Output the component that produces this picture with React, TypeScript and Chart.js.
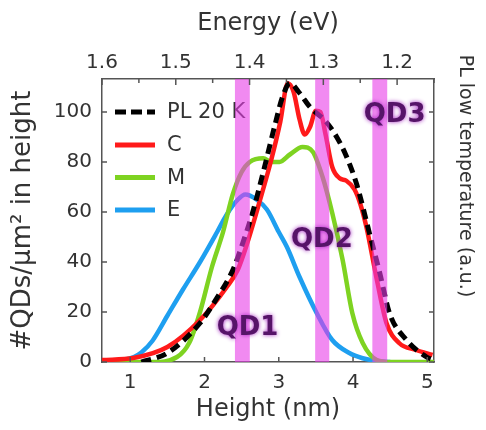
import React, { useEffect, useRef } from 'react';
import { Chart, registerables } from 'chart.js';

Chart.register(...registerables);

// ---------- data ----------
const seriesNames = ['PL 20 K', 'C', 'M', 'E'];
const seriesColors = ['#000000', '#ff1a1a', '#7ed321', '#1e9ff0'];

const plX = [1.15, 1.5, 1.94, 2.21, 2.3, 2.4, 2.52, 2.65, 2.8, 2.95, 3.05, 3.15, 3.28, 3.42, 3.64, 3.78, 3.9, 4.05, 4.22, 4.36, 4.49, 4.72, 4.99, 5.07];
const plY = [0, 3.6, 15.6, 27.6, 32, 38, 48, 60, 77, 95, 106, 111.5, 107.6, 102, 96, 90, 83, 71, 51.6, 35.6, 19.6, 8.8, 2, 1];

const cX = [0.62, 1.04, 1.5, 1.94, 2.3, 2.45, 2.57, 2.75, 2.9, 3.02, 3.12, 3.2, 3.28, 3.35, 3.42, 3.5, 3.56, 3.63, 3.72, 3.82, 3.91, 4.02, 4.1, 4.18, 4.32, 4.45, 4.62, 4.85, 5.07];
const cY = [0.8, 1.6, 6, 16.8, 30, 37, 47, 65, 81, 96, 111.5, 108, 97, 91, 94, 100.5, 100, 91, 78, 73.5, 72.5, 69, 63, 54, 33, 15.6, 7.6, 4.8, 2.8];

const mX = [0.62, 1.3, 1.63, 1.8, 1.94, 2.1, 2.25, 2.38, 2.5, 2.61, 2.79, 2.9, 3.01, 3.15, 3.32, 3.46, 3.59, 3.72, 3.86, 3.99, 4.13, 4.32, 4.5, 5.09];
const mY = [0, 0, 2, 8, 20, 38, 52, 67, 76, 80, 81.5, 80, 80, 83, 86, 84, 74, 59.6, 40.8, 19.6, 7.6, 0.8, 0, 0];

const eX = [0.62, 0.9, 1.05, 1.15, 1.3, 1.5, 1.71, 1.94, 2.17, 2.3, 2.45, 2.55, 2.7, 2.84, 3.0, 3.11, 3.28, 3.51, 3.72, 3.95, 4.13, 4.3, 4.5];
const eY = [0.2, 0.8, 2, 3.8, 8.5, 18.5, 29, 40, 52, 59, 65, 67, 65, 61, 52, 46, 34, 19.6, 8.8, 3.6, 1.5, 0.5, 0];

const bandStarts = [2.41, 3.49, 4.26];
const bandEnds = [2.61, 3.68, 4.46];

const qdLabels = ['QD1', 'QD2', 'QD3'];
const qdX = [2.58, 3.58, 4.56];
const qdY = [13.6, 48.8, 98.8];

const heightTicks = [1, 2, 3, 4, 5];
const countTicks = [0, 20, 40, 60, 80, 100];

const xTitle = 'Height (nm)';
const yTitle = '#QDs/µm² in height';
const topTitle = 'Energy (eV)';
const rightTitle = 'PL low temperature (a.u.)';

const FONT = "'DejaVu Sans', 'Liberation Sans', sans-serif";
const TEXT = '#333333';
const AXIS = '#555555';

function pts(xs: number[], ys: number[]) {
  return xs.map((x, i) => ({ x, y: ys[i] }));
}

export default function App() {
  const ref = useRef<HTMLCanvasElement | null>(null);

  useEffect(() => {
    if (!ref.current) return;
    Chart.defaults.font.family = FONT;

    const overlay = {
      id: 'overlay',
      beforeDatasetsDraw(chart: any) {
        const { ctx, chartArea } = chart;
        ctx.save();
        const rows = [33, 66, 98.5, 131];
        for (let i = 0; i < seriesNames.length; i++) {
          const y = chartArea.top + rows[i];
          ctx.beginPath();
          ctx.strokeStyle = seriesColors[i];
          ctx.lineWidth = 5;
          ctx.setLineDash(i === 0 ? [11, 5] : []);
          ctx.moveTo(chartArea.left + 13, y);
          ctx.lineTo(chartArea.left + 53, y);
          ctx.stroke();
          ctx.setLineDash([]);
          ctx.fillStyle = TEXT;
          ctx.font = `21px ${FONT}`;
          ctx.textAlign = 'left';
          ctx.textBaseline = 'middle';
          ctx.fillText(seriesNames[i], chartArea.left + 65, y + 1);
        }
        ctx.restore();
      },
      afterDatasetsDraw(chart: any) {
        const { ctx, chartArea, scales } = chart;
        const xs = scales.x;
        const ys = scales.y;
        ctx.save();
        ctx.fillStyle = 'rgba(232, 60, 232, 0.6)';
        for (let i = 0; i < bandStarts.length; i++) {
          const a = xs.getPixelForValue(bandStarts[i]);
          const b = xs.getPixelForValue(bandEnds[i]);
          ctx.fillRect(a, chartArea.top, b - a, chartArea.bottom - chartArea.top);
        }
        ctx.font = `bold 26px ${FONT}`;
        ctx.textAlign = 'center';
        ctx.textBaseline = 'middle';
        ctx.shadowColor = 'rgba(160, 30, 190, 0.95)';
        ctx.shadowBlur = 4;
        ctx.fillStyle = '#561468';
        for (let i = 0; i < qdLabels.length; i++) {
          ctx.fillText(qdLabels[i], xs.getPixelForValue(qdX[i]), ys.getPixelForValue(qdY[i]));
        }
        ctx.restore();
      },
      afterDraw(chart: any) {
        const { ctx, chartArea, scales } = chart;
        ctx.save();
        ctx.strokeStyle = AXIS;
        ctx.lineWidth = 1.5;
        const L = 5;
        scales.x.ticks.forEach((t: any) => {
          const p = scales.x.getPixelForValue(t.value);
          ctx.beginPath();
          ctx.moveTo(p, chartArea.bottom);
          ctx.lineTo(p, chartArea.bottom - L);
          ctx.stroke();
        });
        scales.x2.ticks.forEach((t: any) => {
          const p = scales.x2.getPixelForValue(t.value);
          const major = Math.abs(t.value * 10 - Math.round(t.value * 10)) < 1e-6;
          ctx.beginPath();
          ctx.moveTo(p, chartArea.top);
          ctx.lineTo(p, chartArea.top + (major ? L + 1 : L - 1));
          ctx.stroke();
        });
        scales.y.ticks.forEach((t: any) => {
          const p = scales.y.getPixelForValue(t.value);
          ctx.beginPath();
          ctx.moveTo(chartArea.left, p);
          ctx.lineTo(chartArea.left + L, p);
          ctx.stroke();
          ctx.beginPath();
          ctx.moveTo(chartArea.right, p);
          ctx.lineTo(chartArea.right - L, p);
          ctx.stroke();
        });
        ctx.fillStyle = TEXT;
        ctx.font = `19px ${FONT}`;
        ctx.textAlign = 'center';
        ctx.textBaseline = 'middle';
        ctx.translate(chartArea.right + 31, 176);
        ctx.rotate(Math.PI / 2);
        ctx.fillText(rightTitle, 0, 0);
        ctx.restore();
      },
    };

    const lineBase = {
      pointRadius: 0,
      borderWidth: 4.5,
      fill: false,
      cubicInterpolationMode: 'monotone' as const,
    };

    const chart = new Chart(ref.current, {
      type: 'line',
      data: {
        datasets: [
          { ...lineBase, label: seriesNames[0], data: pts(plX, plY), borderColor: seriesColors[0], borderDash: [10, 6], borderWidth: 5 },
          { ...lineBase, label: seriesNames[1], data: pts(cX, cY), borderColor: seriesColors[1] },
          { ...lineBase, label: seriesNames[2], data: pts(mX, mY), borderColor: seriesColors[2] },
          { ...lineBase, label: seriesNames[3], data: pts(eX, eY), borderColor: seriesColors[3] },
        ],
      },
      options: {
        animation: false,
        responsive: false,
        layout: { padding: 0 },
        plugins: {
          legend: { display: false },
          tooltip: { enabled: false },
        },
        scales: {
          x: {
            type: 'linear',
            position: 'bottom',
            min: 0.62,
            max: 5.09,
            grid: { display: false, drawTicks: false },
            border: { display: true, color: AXIS, width: 1.5 },
            afterBuildTicks: (s: any) => {
              s.ticks = heightTicks.map((v) => ({ value: v }));
            },
            ticks: { color: TEXT, font: { size: 20, family: FONT }, padding: 9, maxRotation: 0 },
            title: { display: true, text: xTitle, color: TEXT, font: { size: 24, family: FONT }, padding: { top: 0, bottom: 6 } },
            afterFit: (s: any) => { s.height = 68; },
          },
          x2: {
            type: 'linear',
            axis: 'x',
            position: 'top',
            reverse: true,
            min: 1.15,
            max: 1.6,
            grid: { display: false, drawTicks: false },
            border: { display: true, color: AXIS, width: 1.5 },
            ticks: {
              color: TEXT,
              font: { size: 20, family: FONT },
              padding: 4,
              stepSize: 0.05,
              includeBounds: false,
              maxRotation: 0,
              autoSkip: false,
              callback: (v: any) => {
                const n = Number(v);
                return Math.abs(n * 10 - Math.round(n * 10)) < 1e-6 ? n.toFixed(1) : '';
              },
            },
            title: { display: true, text: topTitle, color: TEXT, font: { size: 24, family: FONT }, padding: { top: 9, bottom: 0 } },
            afterFit: (s: any) => { s.height = 79; },
          },
          y: {
            type: 'linear',
            position: 'left',
            min: 0,
            max: 113.2,
            grid: { display: false, drawTicks: false },
            border: { display: true, color: AXIS, width: 1.5 },
            afterBuildTicks: (s: any) => {
              s.ticks = countTicks.map((v) => ({ value: v }));
            },
            ticks: { color: TEXT, font: { size: 20, family: FONT }, padding: 10 },
            title: { display: true, text: yTitle, color: TEXT, font: { size: 26, family: FONT }, padding: { top: 8, bottom: 0 } },
            afterFit: (s: any) => { s.width = 102; },
          },
          y2: {
            type: 'linear',
            axis: 'y',
            position: 'right',
            min: 0,
            max: 113.2,
            grid: { display: false, drawTicks: false },
            border: { display: true, color: AXIS, width: 1.5 },
            ticks: { display: false },
            afterFit: (s: any) => { s.width = 52; },
          },
        },
      },
      plugins: [overlay],
    } as any);

    return () => chart.destroy();
  }, []);

  return (
    <div style={{ position: 'absolute', left: 0, top: 0, width: 486, height: 430, background: '#ffffff' }}>
      <canvas ref={ref} width={486} height={430} />
    </div>
  );
}
